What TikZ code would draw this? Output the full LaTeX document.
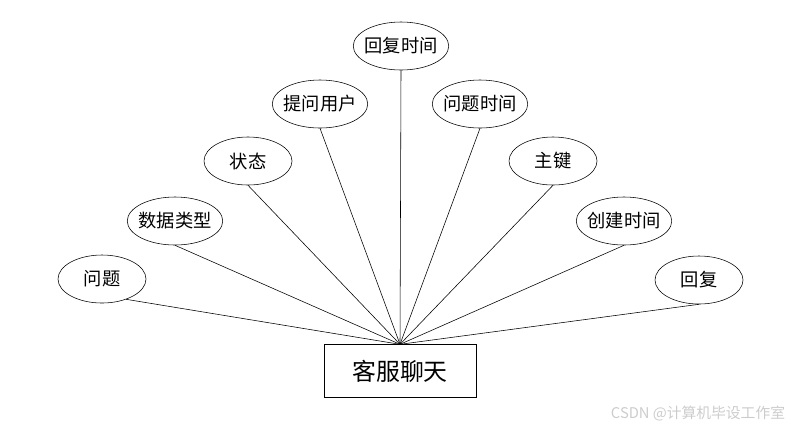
\documentclass[tikz,border=0pt]{standalone}
\usepackage{fontspec}
\setmainfont{Noto Sans CJK SC}
\usetikzlibrary{shapes.geometric}
\tikzset{
    attr/.style={draw, ellipse, thin, minimum width=2.2cm, minimum height=1.2cm, inner sep=-2pt, font=\fontsize{13}{13}\selectfont},
    entity/.style={draw, thin, minimum width=3.8cm, minimum height=1.32cm, font=\fontsize{17}{17}\selectfont}
}
\begin{document}
\begin{tikzpicture}[x=0.025cm, y=-0.025cm]
    \useasboundingbox (0,0) rectangle (800,430);
    % 实体
    \node[entity] (kf) at (400, 371) {客服聊天};

    % 属性
    \node[attr] (wt)   at (102, 279) {问题};
    \node[attr] (sjlx) at (175, 221) {数据类型};
    \node[attr] (zt)   at (248, 161) {状态};
    \node[attr] (twyh) at (320, 104) {提问用户};
    \node[attr] (hfsj) at (401, 46)  {回复时间};
    \node[attr] (wtsj) at (480, 104) {问题时间};
    \node[attr] (zj)   at (553, 161) {主键};
    \node[attr] (cjsj) at (624, 221) {创建时间};
    \node[attr] (hf)   at (699, 280) {回复};

    % 连线
    \draw (wt.-40) -- (kf.north);
    \foreach \a in {sjlx, zt, twyh, hfsj, wtsj, zj, cjsj, hf}
        \draw (\a.south) -- (kf.north);

    % 水印
    \node[gray!40, font=\fontsize{10.5}{10.5}\selectfont, anchor=east] (csdn) at (790, 413) {CSDN @计算机毕设工作室};
\end{tikzpicture}
\end{document}
